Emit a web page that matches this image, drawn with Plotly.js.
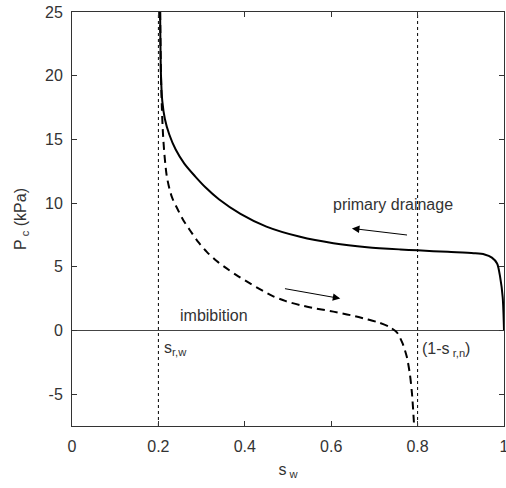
<!DOCTYPE html>
<html>
<head>
<meta charset="utf-8">
<script src="https://cdn.plot.ly/plotly-3.0.1.min.js"></script>
<style>html,body{margin:0;padding:0;background:#fff}#chart{width:506px;height:488px}</style>
</head>
<body>
<div id="chart"></div>
<script>
// Primary drainage curve (solid)
const drainS = [0.204,0.206,0.209,0.215,0.225,0.24,0.26,0.285,0.31,0.34,0.39,0.45,0.528,0.605,0.683,0.76,0.8,0.87,0.93,0.955,0.972,0.984,0.991,0.997,1.0];
const drainP = [25,20,18,16.6,15.4,14.2,13.1,12.1,11.2,10.3,9.15,8.15,7.35,6.85,6.54,6.36,6.29,6.17,6.07,5.97,5.72,5.26,4.21,2.6,0];
// Imbibition curve (dashed)
const imbS = [0.204,0.206,0.208,0.2105,0.214,0.219,0.225,0.232,0.2425,0.257,0.273,0.292,0.312,0.335,0.358,0.385,0.412,0.44,0.466,0.495,0.528,0.565,0.605,0.645,0.683,0.712,0.735,0.752,0.765,0.775,0.782,0.787,0.792];
const imbP = [25,20,17.5,15.5,13.8,12.2,11.2,10.4,9.65,8.7,7.87,6.95,6.17,5.45,4.87,4.25,3.69,3.15,2.68,2.3,1.99,1.72,1.48,1.2,0.88,0.6,0.27,-0.15,-1.0,-2.07,-3.4,-4.95,-7.5];
// Residual saturation markers
const srw = 0.2;
const oneMinusSrn = 0.8;
const yRange = [-7.5, 25];
const xTicks = [0,0.2,0.4,0.6,0.8,1];
const xTickText = ['0','0.2','0.4','0.6','0.8','1'];
const yTicks = [-5,0,5,10,15,20,25];
const yTickText = ['-5','0','5','10','15','20','25'];

const font = {family: 'Liberation Sans, Arial, sans-serif', size: 16, color: '#333'};

const traces = [
  {x:[srw,srw], y:yRange, mode:'lines', line:{color:'#000', width:1, dash:'dot'}, hoverinfo:'skip'},
  {x:[oneMinusSrn,oneMinusSrn], y:yRange, mode:'lines', line:{color:'#000', width:1, dash:'dot'}, hoverinfo:'skip'},
  {x:drainS, y:drainP, mode:'lines', line:{color:'#000', width:2, shape:'spline', smoothing:0.8}},
  {x:imbS, y:imbP, mode:'lines', line:{color:'#000', width:2, dash:'8px,5px', shape:'spline', smoothing:0.8}}
];

const axisCommon = {
  showline:true, linecolor:'#333', linewidth:1, mirror:'ticks',
  ticks:'inside', ticklen:5, tickcolor:'#333', showgrid:false,
  tickfont: font, ticklabeloverflow:'allow'
};

const layout = {
  width:506, height:488,
  margin:{l:72, r:2, t:12, b:62},
  showlegend:false,
  paper_bgcolor:'#fff', plot_bgcolor:'#fff',
  font: font,
  xaxis: Object.assign({}, axisCommon, {
    range:[0,1], tickvals:xTicks, ticktext:xTickText, zeroline:false, ticklabelstandoff:6,
    title:{text:'s<sub> w</sub>', font:font, standoff:9}
  }),
  yaxis: Object.assign({}, axisCommon, {
    range:yRange, tickvals:yTicks, ticktext:yTickText, zeroline:true, zerolinecolor:'#444', zerolinewidth:1,
    ticklabelstandoff:5,
    title:{text:'P<sub> c</sub> (kPa)', font:font, standoff:14}
  }),
  annotations:[
    {x:0.744, y:9.92, xref:'x', yref:'y', text:'primary drainage', showarrow:false, font:font},
    {x:0.329, y:1.2, xref:'x', yref:'y', text:'imbibition', showarrow:false, font:font},
    {x:0.209, y:-1.4, xref:'x', yref:'y', text:'s<sub>r,w</sub>', showarrow:false, xanchor:'left', font:font},
    {x:0.806, y:-1.5, xref:'x', yref:'y', text:'(1-s<sub> r,n</sub>)', showarrow:false, xanchor:'left', font:font},
    {x:0.648, y:8.01, ax:0.779, ay:7.48, xref:'x', yref:'y', axref:'x', ayref:'y', text:'', showarrow:true, arrowhead:2, arrowsize:1.5, arrowwidth:1, arrowcolor:'#000'},
    {x:0.621, y:2.51, ax:0.4895, ay:3.30, xref:'x', yref:'y', axref:'x', ayref:'y', text:'', showarrow:true, arrowhead:2, arrowsize:1.5, arrowwidth:1, arrowcolor:'#000'}
  ]
};

Plotly.newPlot('chart', traces, layout, {displayModeBar:false, staticPlot:true});
</script>
</body>
</html>
